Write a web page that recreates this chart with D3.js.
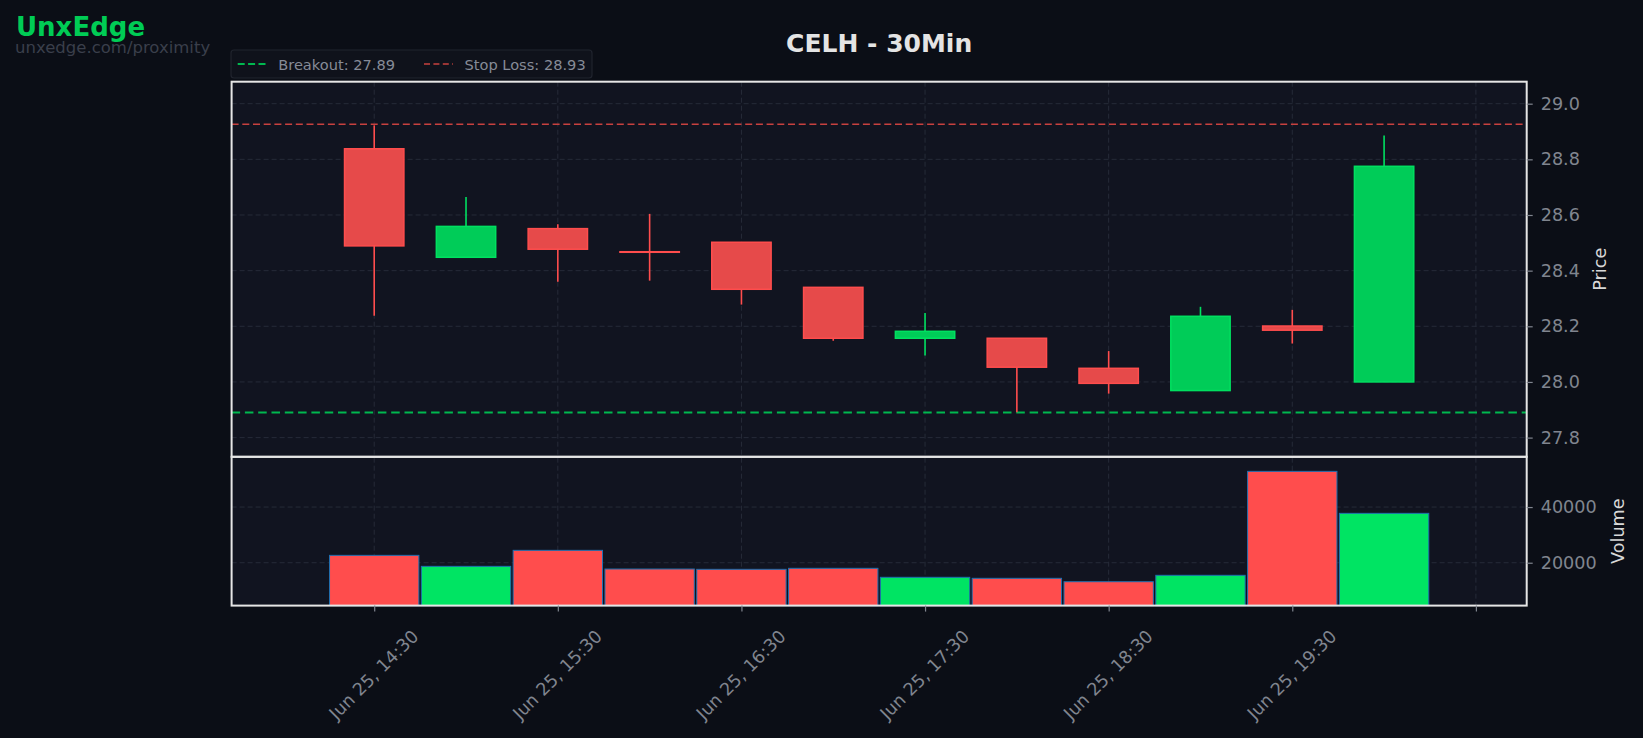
<!DOCTYPE html>
<html>
<head>
<meta charset="utf-8">
<script src="https://cdn.jsdelivr.net/npm/d3@7"></script>
<style>
  body { margin: 0; background: #0b0e16; }
  svg { display: block; font-family: "DejaVu Sans", sans-serif; }
</style>
</head>
<body>
<svg id="chart" width="1643" height="738"></svg>
<script>
// 30 min candles, Jun 25
const times = ["14:30", "15:00", "15:30", "16:00", "16:30", "17:00", "17:30", "18:00", "18:30", "19:00", "19:30", "20:00"];
const opens = [28.838, 28.448, 28.551, 28.468, 28.502, 28.340, 28.157, 28.157, 28.049, 27.969, 28.201, 28.000];
const highs = [28.922, 28.665, 28.567, 28.604, 28.502, 28.340, 28.248, 28.157, 28.111, 28.270, 28.259, 28.886];
const lows = [28.238, 28.448, 28.360, 28.364, 28.278, 28.148, 28.095, 27.891, 27.958, 27.969, 28.138, 28.000];
const closes = [28.489, 28.559, 28.477, 28.466, 28.333, 28.157, 28.182, 28.053, 27.995, 28.236, 28.186, 28.775];
const volumes = [22650, 18700, 24450, 17740, 17630, 17990, 14760, 14400, 13180, 15480, 52820, 37740];

const levelNames = ["Breakout", "Stop Loss"];
const levelValues = [27.89, 28.926];

const xTickTimes = ["14:30", "15:30", "16:30", "17:30", "18:30", "19:30", "20:30"];
const xTickLabels = ["Jun 25, 14:30", "Jun 25, 15:30", "Jun 25, 16:30", "Jun 25, 17:30", "Jun 25, 18:30", "Jun 25, 19:30", ""];
const priceTicks = [27.8, 28.0, 28.2, 28.4, 28.6, 28.8, 29.0];
const volumeTicks = [20000, 40000];

const parseTime = t => new Date(`2025-06-25T${t}:00`);
const MIN = 60 * 1000;

const candles = times.map((t, i) => ({
    time: parseTime(t),
    open: opens[i],
    high: highs[i],
    low: lows[i],
    close: closes[i],
    volume: volumes[i],
    up: closes[i] >= opens[i]
}));

const left = 231.6, right = 1526.7;
const priceTop = 81.7, priceBottom = 456.8, volBottom = 605.6;

const x = d3.scaleTime()
    .domain([new Date(candles[0].time - 46.6 * MIN), new Date(+candles[candles.length - 1].time + 46.6 * MIN)])
    .range([left, right]);

const yPrice = d3.scaleLinear().domain([27.731, 29.079]).range([priceBottom, priceTop]);
const yVol = d3.scaleLinear().domain([4600, 58050]).range([volBottom, priceBottom]);

const svg = d3.select("#chart");

svg.append("rect").attr("width", 1643).attr("height", 738).attr("fill", "#0b0e16");

// panel backgrounds
svg.append("rect").attr("x", left).attr("y", priceTop)
    .attr("width", right - left).attr("height", volBottom - priceTop)
    .attr("fill", "#111420");

// grid
const grid = svg.append("g").attr("stroke", "#262b38").attr("stroke-width", 1).attr("stroke-dasharray", "5,3");
xTickTimes.forEach(t => {
    grid.append("line")
        .attr("x1", x(parseTime(t))).attr("x2", x(parseTime(t)))
        .attr("y1", priceTop).attr("y2", volBottom);
});
priceTicks.forEach(v => {
    grid.append("line").attr("x1", left).attr("x2", right)
        .attr("y1", yPrice(v)).attr("y2", yPrice(v));
});
volumeTicks.forEach(v => {
    grid.append("line").attr("x1", left).attr("x2", right)
        .attr("y1", yVol(v)).attr("y2", yVol(v));
});

// levels
const levelStyles = [
    {color: "#00b84f", width: 2, dash: "8.5,4.8"},
    {color: "#c8413f", width: 1.6, dash: "7,3.7"}
];
levelValues.forEach((v, i) => {
    svg.append("line")
        .attr("x1", left).attr("x2", right)
        .attr("y1", yPrice(v)).attr("y2", yPrice(v))
        .attr("stroke", levelStyles[i].color)
        .attr("stroke-width", levelStyles[i].width)
        .attr("stroke-dasharray", levelStyles[i].dash);
});

// volume bars
svg.append("g").selectAll("rect")
    .data(candles)
    .enter()
    .append("rect")
    .attr("x", d => x(new Date(d.time - 14.6 * MIN)))
    .attr("width", d => x(new Date(+d.time + 14.6 * MIN)) - x(new Date(d.time - 14.6 * MIN)))
    .attr("y", d => yVol(d.volume))
    .attr("height", d => volBottom - yVol(d.volume))
    .attr("fill", d => d.up ? "#00e463" : "#ff4d4d")
    .attr("stroke", "#1f6fb0")
    .attr("stroke-width", 1);

// candles
const candleGroups = svg.append("g").selectAll("g")
    .data(candles)
    .enter()
    .append("g");

candleGroups.append("line")
    .attr("x1", d => x(d.time)).attr("x2", d => x(d.time))
    .attr("y1", d => yPrice(d.high)).attr("y2", d => yPrice(d.low))
    .attr("stroke", d => d.up ? "#00e060" : "#ff4d4d")
    .attr("stroke-width", 1.6);

candleGroups.append("rect")
    .attr("x", d => x(new Date(d.time - 9.7 * MIN)))
    .attr("width", d => x(new Date(+d.time + 9.7 * MIN)) - x(new Date(d.time - 9.7 * MIN)))
    .attr("y", d => yPrice(Math.max(d.open, d.close)))
    .attr("height", d => Math.max(0.5, Math.abs(yPrice(d.open) - yPrice(d.close))))
    .attr("fill", d => d.up ? "#00cc58" : "#e64a4a")
    .attr("stroke", d => d.up ? "#00e060" : "#ff4d4d")
    .attr("stroke-width", 1.5);

// frames
svg.append("rect").attr("x", left).attr("y", priceTop)
    .attr("width", right - left).attr("height", priceBottom - priceTop)
    .attr("fill", "none").attr("stroke", "#e6e6e6").attr("stroke-width", 2);
svg.append("rect").attr("x", left).attr("y", priceBottom)
    .attr("width", right - left).attr("height", volBottom - priceBottom)
    .attr("fill", "none").attr("stroke", "#e6e6e6").attr("stroke-width", 2);

// axes
const tickColor = "#80858f";

function styleAxis(g) {
    g.select(".domain").remove();
    g.selectAll("line").attr("stroke", tickColor).attr("stroke-width", 1.2);
    g.selectAll("text").attr("fill", tickColor).style("font-size", "17.6px").style("font-family", "DejaVu Sans");
}

svg.append("g")
    .attr("transform", `translate(${right},0)`)
    .call(d3.axisRight(yPrice).tickValues(priceTicks).tickFormat(d3.format(".1f")).tickSize(6).tickPadding(8))
    .call(styleAxis);

svg.append("g")
    .attr("transform", `translate(${right},0)`)
    .call(d3.axisRight(yVol).tickValues(volumeTicks).tickFormat(d3.format("d")).tickSize(6).tickPadding(8))
    .call(styleAxis);

const xAxis = svg.append("g")
    .attr("transform", `translate(0,${volBottom})`)
    .call(d3.axisBottom(x).tickValues(xTickTimes.map(parseTime)).tickFormat((d, i) => xTickLabels[i]).tickSize(6))
    .call(styleAxis);

xAxis.selectAll("text")
    .attr("y", 0).attr("dy", "0.35em")
    .attr("text-anchor", "middle")
    .attr("transform", "translate(-1,69) rotate(-45)");

// axis titles
svg.append("text")
    .attr("transform", `translate(1606,${(priceTop + priceBottom) / 2}) rotate(-90)`)
    .attr("text-anchor", "middle")
    .attr("fill", "#d8d8d8")
    .style("font-size", "17.6px")
    .text("Price");

svg.append("text")
    .attr("transform", `translate(1624,${(priceBottom + volBottom) / 2}) rotate(-90)`)
    .attr("text-anchor", "middle")
    .attr("fill", "#d8d8d8")
    .style("font-size", "17.6px")
    .text("Volume");

// title + brand
svg.append("text")
    .attr("x", (left + right) / 2).attr("y", 51.5)
    .attr("text-anchor", "middle")
    .attr("fill", "#e4e4e4")
    .style("font-size", "25px").style("font-weight", "bold")
    .text("CELH - 30Min");

svg.append("text")
    .attr("x", 16).attr("y", 36)
    .attr("fill", "#00cc55")
    .style("font-size", "26px").style("font-weight", "bold")
    .text("UnxEdge");

svg.append("text")
    .attr("x", 15).attr("y", 53)
    .attr("fill", "#3a3f4b")
    .style("font-size", "16.5px")
    .text("unxedge.com/proximity");

// legend
const legend = svg.append("g");
legend.append("rect")
    .attr("x", 231).attr("y", 50).attr("width", 361).attr("height", 28).attr("rx", 3)
    .attr("fill", "#0f121b").attr("stroke", "#20242e").attr("stroke-width", 1.2);

const legendX = [237.7, 424];
levelNames.forEach((name, i) => {
    legend.append("line")
        .attr("x1", legendX[i]).attr("x2", legendX[i] + 29)
        .attr("y1", 64).attr("y2", 64)
        .attr("stroke", levelStyles[i].color)
        .attr("stroke-width", levelStyles[i].width)
        .attr("stroke-dasharray", i === 0 ? "7,3.4" : "6,3.4");
    legend.append("text")
        .attr("x", legendX[i] + 40.5).attr("y", 69.5)
        .attr("fill", "#868b97")
        .style("font-size", "14.6px")
        .text(`${name}: ${levelValues[i].toFixed(2)}`);
});
</script>
</body>
</html>
